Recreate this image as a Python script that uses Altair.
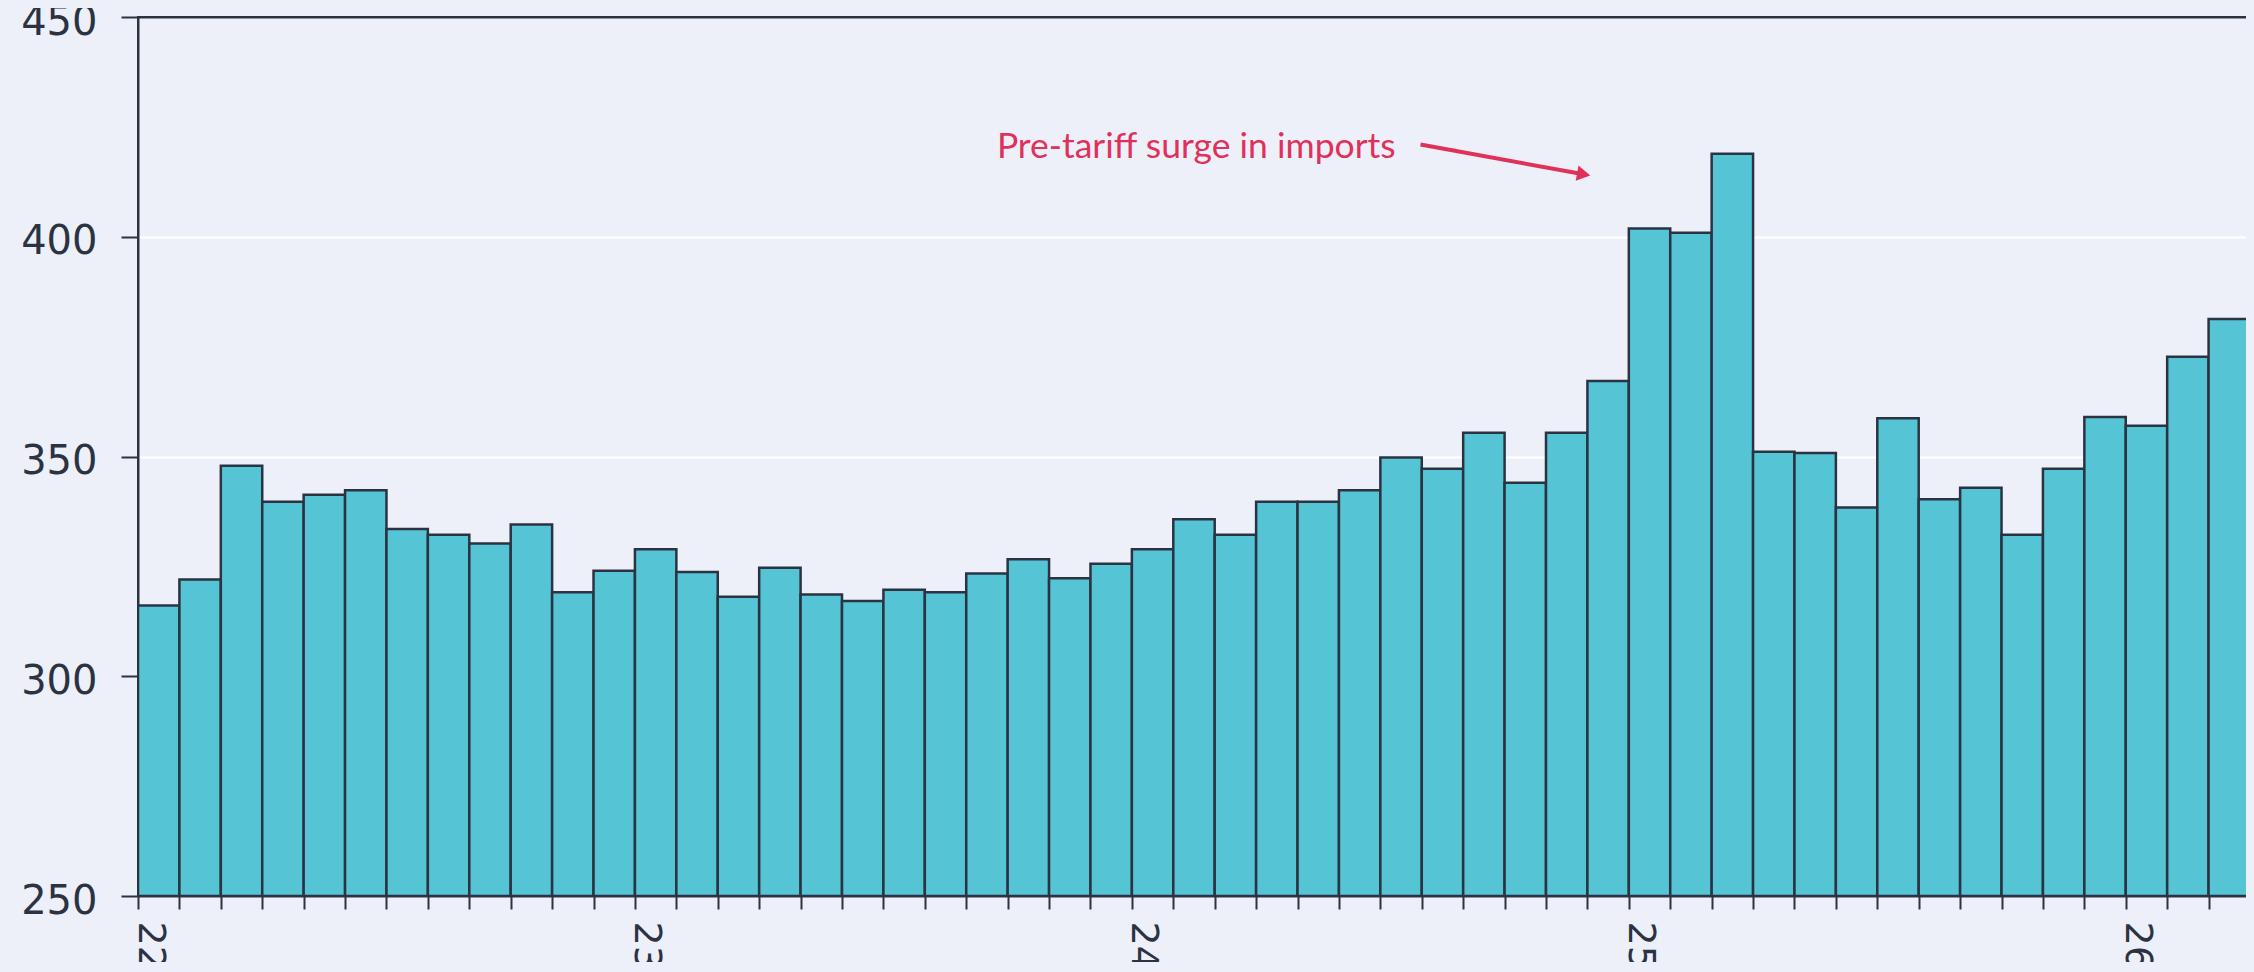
import altair as alt
import pandas as pd

# Monthly data, Jan 2022 .. Mar 2026
months = [
    "2022-01", "2022-02", "2022-03", "2022-04", "2022-05", "2022-06",
    "2022-07", "2022-08", "2022-09", "2022-10", "2022-11", "2022-12",
    "2023-01", "2023-02", "2023-03", "2023-04", "2023-05", "2023-06",
    "2023-07", "2023-08", "2023-09", "2023-10", "2023-11", "2023-12",
    "2024-01", "2024-02", "2024-03", "2024-04", "2024-05", "2024-06",
    "2024-07", "2024-08", "2024-09", "2024-10", "2024-11", "2024-12",
    "2025-01", "2025-02", "2025-03", "2025-04", "2025-05", "2025-06",
    "2025-07", "2025-08", "2025-09", "2025-10", "2025-11", "2025-12",
    "2026-01", "2026-02", "2026-03",
]
values = [
    316.1, 322.0, 347.9, 339.7, 341.3, 342.3, 333.5, 332.2, 330.2, 334.5,
    319.1, 324.0, 328.9, 323.7, 318.1, 324.7, 318.6, 317.1, 319.7, 319.1,
    323.4, 326.6, 322.3, 325.6, 328.9, 335.7, 332.2, 339.7, 339.7, 342.3,
    349.8, 347.2, 355.4, 344.0, 355.4, 367.2, 401.9, 400.9, 418.9, 351.1,
    350.8, 338.4, 358.7, 340.3, 342.9, 332.2, 347.2, 359.0, 357.0, 372.7,
    381.3,
]
year_labels = ["22", "23", "24", "25", "26"]
y_ticks = [250, 300, 350, 400, 450]

# annotation (data units: x = month index, y = value)
note_text = "Pre-tariff surge in imports"
note_x, note_y = 20.74, 418.0
arrow_x0, arrow_y0 = 30.97, 421.0
arrow_x1, arrow_y1 = 34.91, 414.2

BG = "#edf0f9"
BAR = "#55c5d6"
EDGE = "#2b3342"
INK = "#2b3342"
RED = "#e0315b"

n = len(months)
df = pd.DataFrame({"month": months, "value": values})
df["i"] = range(n)
df["i2"] = df["i"] + 1

# label expression: year label at each January
jan_idx = [k for k, m in enumerate(months) if m.endswith("-01")]
expr = "''"
for k, lab in reversed(list(zip(jan_idx, year_labels))):
    expr = f"datum.value == {k} ? '{lab}' : ({expr})"

xscale = alt.Scale(domain=[0, n], nice=False, zero=False)
yscale = alt.Scale(domain=[250, 450], nice=False, zero=False)
top_val = max(y_ticks)

bars = alt.Chart(df).mark_bar(
    color=BAR, stroke=EDGE, strokeWidth=2.5, clip=True
).encode(
    x=alt.X(
        "i:Q", scale=xscale,
        axis=alt.Axis(
            title=None, values=list(range(n + 1)), labelExpr=expr,
            labelAngle=90, labelAlign="left", labelBaseline="alphabetic",
            labelFont="DejaVu Sans", labelFontSize=38, labelColor=INK,
            labelPadding=12, labelOverlap=False, labelFlush=False, labelBound=False,
            tickSize=13, tickWidth=2, tickColor=INK,
            domainColor=INK, domainWidth=2, grid=False,
        ),
    ),
    x2="i2:Q",
    y=alt.Y(
        "value:Q", scale=yscale,
        axis=alt.Axis(
            title=None, values=y_ticks, format="d",
            labelFont="DejaVu Sans", labelFontSize=40, labelColor=INK,
            labelPadding=24, labelOffset=5, labelFlush=False,
            tickSize=17, tickWidth=2, tickColor=INK,
            domainColor=INK, domainWidth=2,
            grid=True, gridWidth=2,
            gridColor=alt.condition(f"datum.value >= {top_val}", alt.value(INK), alt.value("#ffffff")),
        ),
    ),
    y2=alt.datum(250),
)

note_df = pd.DataFrame({"x": [note_x], "y": [note_y], "t": [note_text]})
note = alt.Chart(note_df).mark_text(
    align="left", baseline="alphabetic", font="Lato", fontSize=35.5, color=RED
).encode(x=alt.X("x:Q", scale=xscale), y=alt.Y("y:Q", scale=yscale), text="t:N")

arrow_df = pd.DataFrame({"x": [arrow_x0], "y": [arrow_y0], "x2": [arrow_x1], "y2": [arrow_y1]})
arrow_line = alt.Chart(arrow_df).mark_rule(color=RED, strokeWidth=4).encode(
    x=alt.X("x:Q", scale=xscale), y=alt.Y("y:Q", scale=yscale), x2="x2:Q", y2="y2:Q"
)
head_df = pd.DataFrame({"x": [arrow_x1], "y": [arrow_y1]})
arrow_head = alt.Chart(head_df).mark_point(
    shape="triangle-right", filled=True, color=RED, opacity=1, size=240, angle=10.5
).encode(x=alt.X("x:Q", scale=xscale), y=alt.Y("y:Q", scale=yscale))

chart = alt.layer(bars, arrow_line, arrow_head, note).properties(
    width=2112, height=879,
    padding={"left": 130, "top": 9, "right": 2, "bottom": 66},
    autosize=alt.AutoSizeParams(type="none"),
    background=BG,
).configure_view(
    stroke=INK, strokeWidth=2, fill=BG
)

embed = {"renderer": "svg", "actions": False}
page_css = "html, body { background: " + BG + "; } svg { overflow: visible; }"
try:
    import inspect
    import re
    import jinja2
    import altair.utils.html as ahtml
    src = inspect.getsource(ahtml)
    m = re.search(r'HTML_TEMPLATE\s*=\s*jinja2\.Template\(\s*r?"""(.*?)"""', src, re.S)
    tsrc = m.group(1)
    if "<style>" not in tsrc:
        raise ValueError("no style block")
    tsrc = tsrc.replace("<style>", "<style>\n    " + page_css, 1)
    tmpl = jinja2.Template(tsrc)
    chart.save("out.html", embed_options=embed, template=tmpl)
except Exception:
    chart.save("out.html", embed_options=embed)
